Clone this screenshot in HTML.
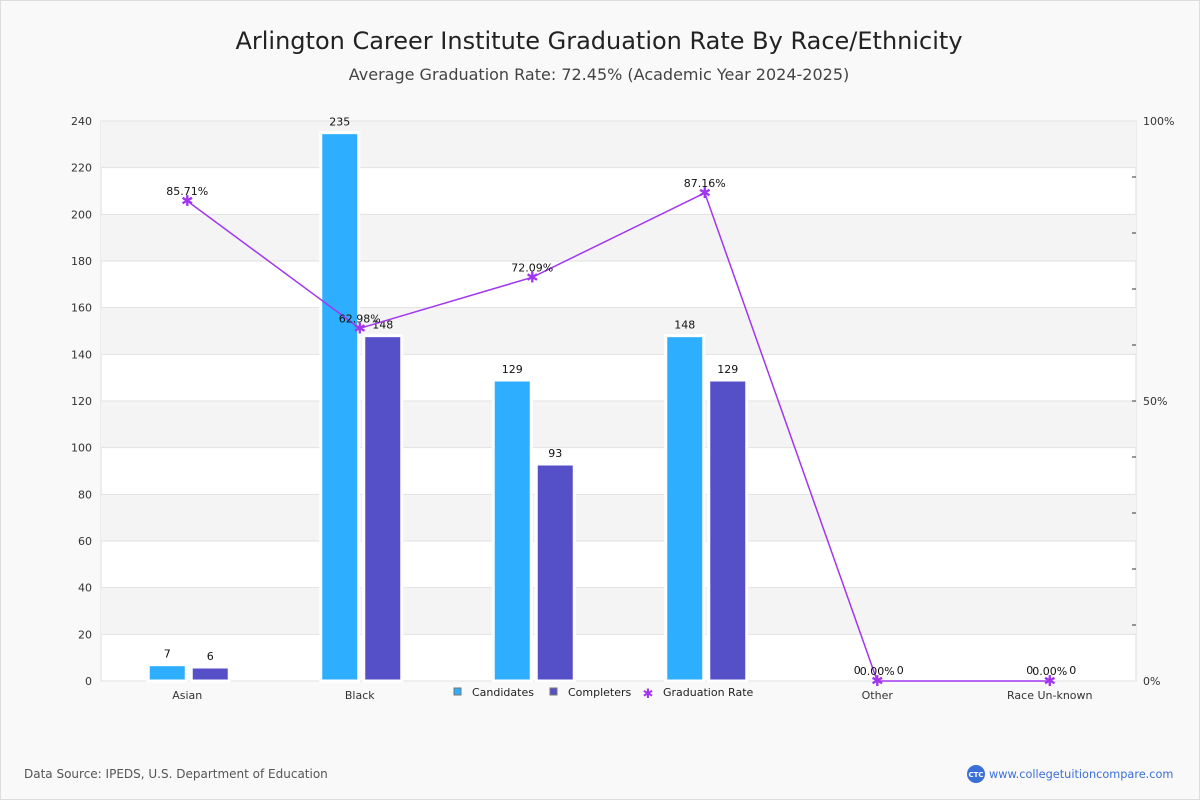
<!DOCTYPE html>
<html><head><meta charset="utf-8"><style>
body{margin:0;background:#fff;font-family:"Liberation Sans","DejaVu Sans",sans-serif}
#wrap{position:relative;width:1198px;height:798px;border:1px solid #ddd;background:#f9f9f9}
</style></head><body>
<div id="wrap">
<svg id="svg" width="1198" height="798" font-family="DejaVu Sans, Liberation Sans, sans-serif">
<text x="598" y="48" text-anchor="middle" font-size="24" fill="#222">Arlington Career Institute Graduation Rate By Race/Ethnicity</text>
<text x="598" y="79" text-anchor="middle" font-size="16" fill="#444">Average Graduation Rate: 72.45% (Academic Year 2024-2025)</text>
<g id="plot"></g>
<text x="23" y="777" font-size="12" fill="#555">Data Source: IPEDS, U.S. Department of Education</text>
<circle cx="975" cy="773" r="9" fill="#3a6fd8"/>
<text x="975" y="776" text-anchor="middle" font-size="7" fill="#fff" font-weight="bold">CTC</text>
<text x="988" y="777" font-size="11.3" fill="#3a6fd8">www.collegetuitioncompare.com</text>
</svg>
</div>
<script>
const categories=["Asian","Black","Hispanic","White","Other","Race Un-known"];
const candidates=[7,235,129,148,0,0];
const completers=[6,148,93,129,0,0];
const rates=[85.71,62.98,72.09,87.16,0,0];
const leftTicks=[0,20,40,60,80,100,120,140,160,180,200,220,240];
const ns="http://www.w3.org/2000/svg";
const g=document.getElementById('plot');
const X0=100,X1=1135,Y0=680,Y1=120,YMAX=240;
const yL=v=>Y0-(v/YMAX)*(Y0-Y1);
const yR=p=>Y0-(p/100)*(Y0-Y1);
const gw=(X1-X0)/categories.length;
const cx=i=>X0+gw*(i+0.5);
function el(t,a,txt){const e=document.createElementNS(ns,t);for(const k in a)e.setAttribute(k,a[k]);if(txt!==undefined)e.textContent=txt;g.appendChild(e);return e;}
el('rect',{x:X0,y:Y1,width:X1-X0,height:Y0-Y1,fill:'#fff',stroke:'#ddd'});
for(let i=0;i<leftTicks.length-1;i++){
 if((leftTicks.length-2-i)%2===0){el('rect',{x:X0,y:yL(leftTicks[i+1]),width:X1-X0,height:yL(leftTicks[i])-yL(leftTicks[i+1]),fill:'#f4f4f4'});}
}
leftTicks.forEach(t=>{
 el('line',{x1:X0,x2:X1,y1:yL(t),y2:yL(t),stroke:'#e2e2e2'});
 const tx=el('text',{x:91,y:yL(t)+4,'text-anchor':'end','font-size':11,fill:'#333'},t);
 
 
});
for(let p=10;p<100;p+=10){
 el('line',{x1:1131,x2:1135,y1:yR(p),y2:yR(p),stroke:'#333'});
}
[0,50,100].forEach(p=>{const t=el('text',{x:1142,y:yR(p)+4,'font-size':11,fill:'#333'},p+'%');
 
 });
categories.forEach((c,i)=>{
 const x=cx(i);
 const t=el('text',{x:x,y:698,'text-anchor':'middle','font-size':11,fill:'#333'},c);
 
 
 [[candidates[i],x-39,'#2eaefe'],[completers[i],x+4,'#554fc8']].forEach(([v,bx,col],k)=>{
  if(v>0){const r=el('rect',{x:bx,y:yL(v),width:38,height:Y0-yL(v),fill:col,stroke:'#fff','stroke-width':3});
  
  }
  const lt=el('text',{x:bx+19,y:yL(v)-7,'text-anchor':'middle','font-size':11,fill:'#111'},v);
  
  
 });
});
const pts=rates.map((r,i)=>cx(i)+','+yR(r)).join(' ');
const pl=el('polyline',{points:pts,fill:'none',stroke:'#a236f0','stroke-width':1.5});


rates.forEach((r,i)=>{
 const x=cx(i),y=yR(r);
 const m=el('text',{x:x,y:y+5,'text-anchor':'middle','font-size':15,fill:'#a236f0','font-weight':'bold'},'✱');
 
 
 const lt=el('text',{x:x,y:y-6,'text-anchor':'middle','font-size':11,fill:'#111'},r.toFixed(2)+'%');
 
 
});
const lg=el('rect',{x:446,y:681,width:310,height:24,fill:'#f9f9f9'});


[['Candidates',453,'#2eaefe'],['Completers',549,'#554fc8']].forEach(([n,x,c])=>{
 const r=el('rect',{x:x,y:687,width:7,height:7,fill:c,stroke:'#777'});
 
 
 const t=el('text',{x:x+18,y:695,'font-size':11,fill:'#222'},n);
 
 
});
el('text',{x:647,y:697,'text-anchor':'middle','font-size':13,fill:'#a236f0','font-weight':'bold'},'✱');
const gt=el('text',{x:662,y:695,'font-size':11,fill:'#222'},'Graduation Rate');


</script>
</body></html>
